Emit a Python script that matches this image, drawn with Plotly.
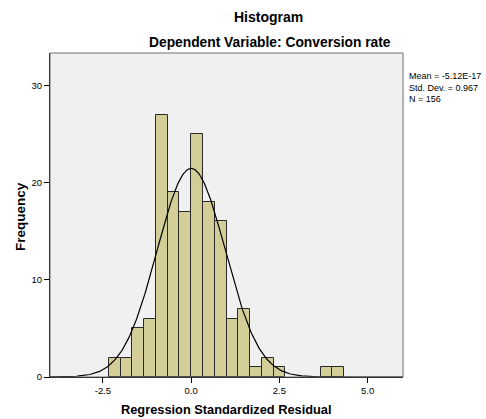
import numpy as np
import plotly.graph_objects as go

# ---- data ----
bin_centers = [-2.1667, -1.8333, -1.5, -1.1667, -0.8333, -0.5, -0.1667,
               0.1667, 0.5, 0.8333, 1.1667, 1.5, 1.8333, 2.1667, 2.5,
               3.8333, 4.1667]
counts = [2, 2, 5, 6, 27, 19, 17, 25, 18, 16, 6, 7, 1, 2, 1, 1, 1]
bin_width = 1 / 3
stat_mean = -5.12e-17
stat_sd = 0.967
stat_n = 156
x_ticks = [-2.5, 0.0, 2.5, 5.0]
x_tick_labels = ["-2.5", "0.0", "2.5", "5.0"]
y_ticks = [0, 10, 20, 30]

FONT = "Liberation Sans, Arial, sans-serif"
L, R, T, B = 50, 83, 53, 42
PW, PH = 486 - L - R, 419 - T - B


def px_x(px):
    return (px - L) / PW


def px_y(py):
    return 1 - (py - T) / PH


fig = go.Figure()
fig.add_trace(go.Bar(
    x=bin_centers, y=counts, width=[bin_width] * len(counts),
    marker=dict(color="#D3CE97", line=dict(color="#2a2a2a", width=1)),
    hoverinfo="x+y", showlegend=False,
))

# fitted normal curve from reported statistics
xs = np.linspace(-4, 6, 400)
ys = stat_n * bin_width / (stat_sd * np.sqrt(2 * np.pi)) * np.exp(-0.5 * ((xs - stat_mean) / stat_sd) ** 2)
fig.add_trace(go.Scatter(x=xs, y=ys, mode="lines", line=dict(color="black", width=1.2),
                         showlegend=False, hoverinfo="skip"))

fig.update_layout(
    width=486, height=419,
    margin=dict(l=L, r=R, t=T, b=B),
    paper_bgcolor="white", plot_bgcolor="#F0F0F0",
    font=dict(family=FONT, color="black", size=9),
    bargap=0,
    shapes=[dict(type="rect", xref="paper", yref="paper", x0=0, y0=0, x1=1, y1=1,
                 line=dict(color="#6e6e6e", width=1), fillcolor="rgba(0,0,0,0)", layer="above")],
    annotations=[
        dict(text="<b>Histogram</b>", xref="paper", yref="paper", x=px_x(268), y=px_y(17),
             xanchor="center", yanchor="middle", showarrow=False, font=dict(size=14, family=FONT)),
        dict(text="<b>Dependent Variable: Conversion rate</b>", xref="paper", yref="paper",
             x=px_x(270), y=px_y(42),
             xanchor="center", yanchor="middle", showarrow=False, font=dict(size=13.8, family=FONT)),
        dict(text=f"Mean = -5.12E-17<br>Std. Dev. = {stat_sd}<br>N = {stat_n}",
             xref="paper", yref="paper", x=px_x(407), y=px_y(69),
             xanchor="left", yanchor="top", align="left", showarrow=False,
             font=dict(size=9, family=FONT)),
        dict(text="<b>Regression Standardized Residual</b>", xref="paper", yref="paper",
             x=px_x(226), y=px_y(409), xanchor="center", yanchor="middle", showarrow=False,
             font=dict(size=12.8, family=FONT)),
        dict(text="<b>Frequency</b>", xref="paper", yref="paper", textangle=-90,
             x=px_x(20), y=px_y(217), xanchor="center", yanchor="middle", showarrow=False,
             font=dict(size=13.5, family=FONT)),
    ],
)
fig.update_xaxes(range=[-4, 6], tickvals=x_ticks, ticktext=x_tick_labels, ticks="outside",
                 ticklen=5, tickcolor="black", showline=True, linecolor="black", linewidth=1,
                 showgrid=False, zeroline=False, automargin=False,
                 tickfont=dict(size=9.5))
fig.update_yaxes(range=[0, 33.33], tickvals=y_ticks, ticks="outside", ticklen=5, tickcolor="black",
                 showline=True, linecolor="black", linewidth=1, showgrid=False, zeroline=False,
                 automargin=False, tickfont=dict(size=9.5))

fig.write_html("out.html")
